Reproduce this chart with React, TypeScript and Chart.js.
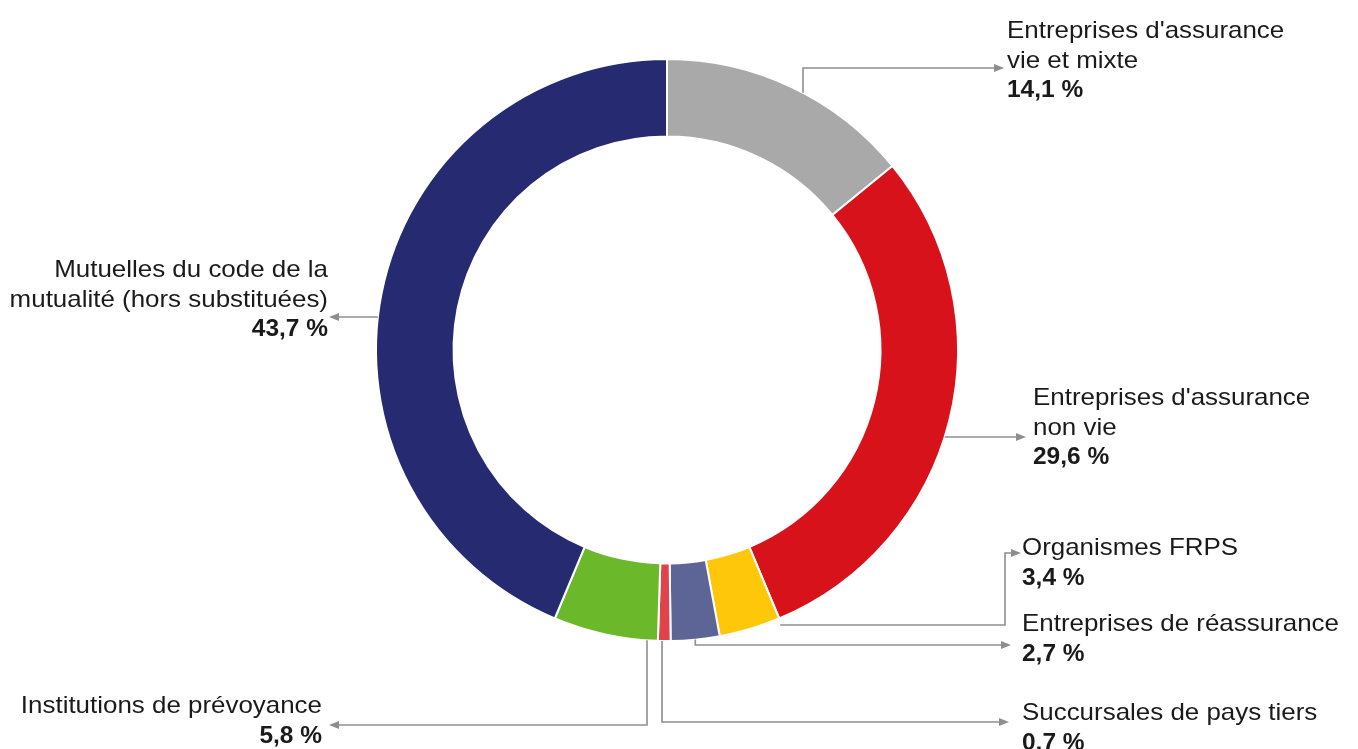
import React, { useEffect, useRef } from "react";
import { Chart, registerables } from "chart.js";

Chart.register(...registerables);

const categories: string[] = [
  "Entreprises d'assurance vie et mixte",
  "Entreprises d'assurance non vie",
  "Organismes FRPS",
  "Entreprises de réassurance",
  "Succursales de pays tiers",
  "Institutions de prévoyance",
  "Mutuelles du code de la mutualité (hors substituées)",
];
const shares: number[] = [14.1, 29.6, 3.4, 2.7, 0.7, 5.8, 43.7];
const sliceColors: string[] = ["#a9a9a9", "#d7121a", "#ffc70a", "#5d6597", "#e0434b", "#6cb82b", "#262a70"];
const labelLines: string[][] = [
  ["Entreprises d'assurance", "vie et mixte"],
  ["Entreprises d'assurance", "non vie"],
  ["Organismes FRPS"],
  ["Entreprises de réassurance"],
  ["Succursales de pays tiers"],
  ["Institutions de prévoyance"],
  ["Mutuelles du code de la", "mutualité (hors substituées)"],
];
const fmt = (v: number) => v.toFixed(1).replace(".", ",") + " %";

// label layout (annotation geometry only)
type Anchor =
  | { kind: "x"; x: number; side: 1 | -1 }
  | { kind: "y"; y: number; side: 1 | -1 }
  | { kind: "mid" }
  | { kind: "startCorner" };
interface LabelLayout {
  anchor: Anchor;
  route: (a: [number, number]) => [number, number][];
  arrow: "right" | "left";
  tx: number;
  ty: number;
  align: CanvasTextAlign;
}
const layouts: LabelLayout[] = [
  { anchor: { kind: "x", x: 803, side: -1 }, route: (a) => [a, [a[0], 68], [1000, 68]], arrow: "right", tx: 1007, ty: 38, align: "left" },
  { anchor: { kind: "y", y: 437, side: 1 }, route: (a) => [a, [1022, a[1]]], arrow: "right", tx: 1033, ty: 405, align: "left" },
  { anchor: { kind: "startCorner" }, route: (a) => [[a[0] + 1, 625], [1005, 625], [1005, 553], [1017, 553]], arrow: "right", tx: 1022, ty: 555, align: "left" },
  { anchor: { kind: "mid" }, route: (a) => [a, [a[0], 645], [1007, 645]], arrow: "right", tx: 1022, ty: 631, align: "left" },
  { anchor: { kind: "x", x: 662, side: 1 }, route: (a) => [a, [a[0], 722], [1005, 722]], arrow: "right", tx: 1022, ty: 720, align: "left" },
  { anchor: { kind: "x", x: 647, side: 1 }, route: (a) => [a, [a[0], 725], [333, 725]], arrow: "left", tx: 322, ty: 713, align: "right" },
  { anchor: { kind: "y", y: 317, side: -1 }, route: (a) => [a, [333, a[1]]], arrow: "left", tx: 328, ty: 277, align: "right" },
];

const leaderPlugin = {
  id: "leaders",
  afterDraw(chart: any) {
    const ctx: CanvasRenderingContext2D = chart.ctx;
    const meta = chart.getDatasetMeta(0);
    const values: number[] = chart.data.datasets[0].data;
    ctx.save();
    meta.data.forEach((arc: any, i: number) => {
      const L = layouts[i];
      if (!L) return;
      const cx = arc.x, cy = arc.y, R = arc.outerRadius;
      let a: [number, number];
      const an = L.anchor;
      if (an.kind === "x") {
        const dy = Math.sqrt(Math.max(R * R - (an.x - cx) ** 2, 0));
        a = [an.x, cy + an.side * dy];
      } else if (an.kind === "y") {
        const dx = Math.sqrt(Math.max(R * R - (an.y - cy) ** 2, 0));
        a = [cx + an.side * dx, an.y];
      } else if (an.kind === "mid") {
        const m = (arc.startAngle + arc.endAngle) / 2;
        a = [cx + R * Math.cos(m), cy + R * Math.sin(m)];
      } else {
        const s = arc.startAngle;
        a = [cx + R * Math.cos(s), cy + R * Math.sin(s)];
      }
      const pts = L.route(a);
      ctx.strokeStyle = "#8e8e8e";
      ctx.fillStyle = "#8e8e8e";
      ctx.lineWidth = 1.6;
      ctx.beginPath();
      pts.forEach((p, k) => (k === 0 ? ctx.moveTo(p[0], p[1]) : ctx.lineTo(p[0], p[1])));
      ctx.stroke();
      const end = pts[pts.length - 1];
      const dir = L.arrow === "right" ? 1 : -1;
      ctx.beginPath();
      ctx.moveTo(end[0] + dir * 4, end[1]);
      ctx.lineTo(end[0] - dir * 6, end[1] - 4);
      ctx.lineTo(end[0] - dir * 6, end[1] + 4);
      ctx.closePath();
      ctx.fill();

      // text
      const lines = [...labelLines[i].map((t) => ({ t, bold: false })), { t: fmt(values[i]), bold: true }];
      ctx.fillStyle = "#1a1a1a";
      ctx.textAlign = L.align;
      ctx.textBaseline = "alphabetic";
      lines.forEach((ln, k) => {
        ctx.save();
        ctx.translate(L.tx, L.ty + k * 29.5);
        ctx.scale(ln.bold ? 1.02 : 1.08, 1);
        ctx.font = (ln.bold ? "bold " : "") + "24px 'Liberation Sans', Arial, sans-serif";
        ctx.fillText(ln.t, 0, 0);
        ctx.restore();
      });
    });
    ctx.restore();
  },
};

export default function App() {
  const ref = useRef<HTMLCanvasElement | null>(null);
  useEffect(() => {
    if (!ref.current) return;
    const chart = new Chart(ref.current, {
      type: "doughnut",
      data: {
        labels: categories,
        datasets: [
          {
            data: shares,
            backgroundColor: sliceColors,
            borderColor: "#ffffff",
            borderWidth: 2,
            hoverOffset: 0,
          },
        ],
      },
      options: {
        responsive: false,
        animation: false,
        radius: 291,
        cutout: 212,
        layout: { padding: { left: 377, right: 401, top: 60, bottom: 109 } },
        plugins: { legend: { display: false }, tooltip: { enabled: false } },
      } as any,
      plugins: [leaderPlugin],
    });
    return () => chart.destroy();
  }, []);
  return (
    <div style={{ position: "absolute", left: 0, top: 0, width: 1358, height: 749, background: "#fff", overflow: "hidden" }}>
      <canvas ref={ref} width={1358} height={749} style={{ display: "block" }} />
    </div>
  );
}
